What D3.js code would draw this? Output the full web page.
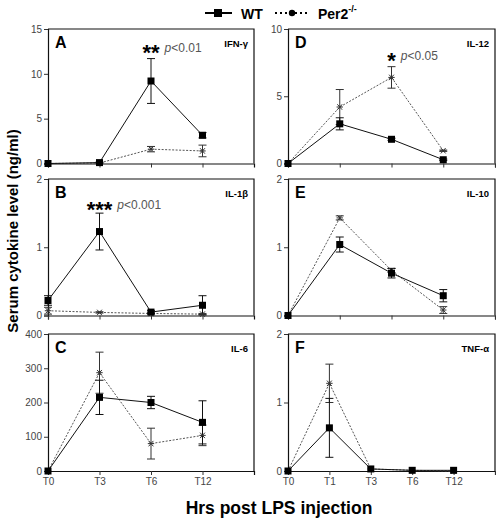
<!DOCTYPE html>
<html><head><meta charset="utf-8">
<script src="https://cdn.jsdelivr.net/npm/d3@7"></script>
<style>
body{margin:0;background:#fff;}
svg{display:block;font-family:"Liberation Sans",Arial,sans-serif;}
</style></head>
<body><svg id="c" width="496" height="519"></svg>
<script>
// ---- Data ----
const catsLeft = ["T0","T3","T6","T12"];
const catsRightTop = ["T0","T1","T3","T6"];
const catsF = ["T0","T1","T3","T6","T12"];

const ifngWT = [0, 0.1, 9.2, 3.15];
const ifngWTErr = [0, 0.05, 2.5, 0.3];
const ifngPer = [0, 0.05, 1.6, 1.4];
const ifngPerErr = [0, 0, 0.3, 0.65];

const il1bWT = [0.22, 1.23, 0.05, 0.15];
const il1bWTErr = [0.07, 0.27, 0.02, 0.14];
const il1bPer = [0.07, 0.045, 0.03, 0.02];
const il1bPerErr = [0.05, 0.01, 0.01, 0.01];

const il6WT = [0, 215, 200, 142];
const il6WTErr = [0, 50, 18, 63];
const il6Per = [0, 287, 80, 104];
const il6PerErr = [0, 60, 45, 30];

const il12WT = [0, 2.95, 1.8, 0.28];
const il12WTErr = [0, 0.45, 0.08, 0.05];
const il12Per = [0, 4.2, 6.4, 0.95];
const il12PerErr = [0, 1.3, 0.8, 0.05];

const il10WT = [0, 1.04, 0.62, 0.29];
const il10WTErr = [0, 0.11, 0.07, 0.09];
const il10Per = [0, 1.43, 0.66, 0.08];
const il10PerErr = [0, 0.03, 0.03, 0.05];

const tnfWT = [0, 0.63, 0.03, 0.01, 0.01];
const tnfWTErr = [0, 0.43, 0, 0, 0];
const tnfPer = [0, 1.28, 0.03, 0.01, 0.0];
const tnfPerErr = [0, 0.28, 0, 0, 0];

const panels = [
  {letter:"A", name:"IFN-γ", cats:catsLeft, slots:5, col:0, row:0, ymax:15, yticks:[0,5,10,15],
   wt:ifngWT, wtE:ifngWTErr, per:ifngPer, perE:ifngPerErr, stars:"**", p:"<0.01", starIdx:2, starVal:12.9, xlabels:false, edgeTick:false},
  {letter:"B", name:"IL-1β", cats:catsLeft, slots:5, col:0, row:1, ymax:2, yticks:[0,1,2],
   wt:il1bWT, wtE:il1bWTErr, per:il1bPer, perE:il1bPerErr, stars:"***", p:"<0.001", starIdx:1, starVal:1.62, xlabels:false, edgeTick:false},
  {letter:"C", name:"IL-6", cats:catsLeft, slots:5, col:0, row:2, ymax:400, yticks:[0,100,200,300,400],
   wt:il6WT, wtE:il6WTErr, per:il6Per, perE:il6PerErr, xlabels:true, edgeTick:false},
  {letter:"D", name:"IL-12", cats:catsRightTop, slots:5, col:1, row:0, ymax:10, yticks:[0,5,10],
   wt:il12WT, wtE:il12WTErr, per:il12Per, perE:il12PerErr, stars:"*", p:"<0.05", starIdx:2, starVal:8.0, xlabels:false, edgeTick:true},
  {letter:"E", name:"IL-10", cats:catsRightTop, slots:5, col:1, row:1, ymax:2, yticks:[0,1,2],
   wt:il10WT, wtE:il10WTErr, per:il10Per, perE:il10PerErr, xlabels:false, edgeTick:true},
  {letter:"F", name:"TNF-α", cats:catsF, slots:6, col:1, row:2, ymax:2, yticks:[0,1,2],
   wt:tnfWT, wtE:tnfWTErr, per:tnfPer, perE:tnfPerErr, xlabels:true, edgeTick:true}
];

// ---- Layout ----
const colX = [[48,254],[288,495]];
const rowY = [[29,163.5],[179,315.5],[334,471]];

const svg = d3.select("#c");

panels.forEach(p=>{
  const [x0,x1] = colX[p.col];
  const [y0,y1] = rowY[p.row];
  const slots = p.cats.concat(d3.range(p.slots - p.cats.length).map(i=>"_e"+i));
  const x = d3.scalePoint().domain(slots).range([x0,x1]);
  const y = d3.scaleLinear().domain([0,p.ymax]).range([y1,y0]);
  const g = svg.append("g");

  g.append("path").attr("d",`M${x0},${y0}H${x1}V${y1}`).attr("fill","none").attr("stroke","#111").attr("stroke-width",1.2);

  const ya = g.append("g").attr("transform",`translate(${x0},0)`)
    .call(d3.axisLeft(y).tickValues(p.yticks).tickSize(4).tickPadding(2).tickFormat(d3.format("d")));
  ya.select(".domain").attr("stroke","#111").attr("stroke-width",1.2);
  ya.selectAll("text").attr("font-size",10).attr("fill","#444");
  ya.selectAll("line").attr("stroke","#333");

  const tickVals = p.edgeTick ? slots : p.cats;
  const xa = g.append("g").attr("transform",`translate(0,${y1})`)
    .call(d3.axisBottom(x).tickValues(tickVals).tickSize(4).tickPadding(3)
      .tickFormat(d=> (p.xlabels && p.cats.includes(d)) ? d : ""));
  xa.select(".domain").attr("stroke","#111").attr("stroke-width",1.2);
  xa.selectAll("text").attr("font-size",10).attr("fill","#444");
  xa.selectAll("line").attr("stroke","#333");

  g.append("text").attr("x",x0+7).attr("y",y0+19).attr("font-size",16).attr("font-weight","bold").text(p.letter);
  g.append("text").attr("x",x1-6).attr("y",y0+18).attr("font-size",9.5).attr("font-weight","bold").attr("text-anchor","end").text(p.name);

  const pts = (vals,errs)=>vals.map((v,i)=>({cx:x(p.cats[i]),v,e:errs[i]}));
  const wt = pts(p.wt,p.wtE), per = pts(p.per,p.perE);
  const line = d3.line().x(d=>d.cx).y(d=>y(d.v));

  g.append("path").datum(per).attr("d",line).attr("fill","none").attr("stroke","#555").attr("stroke-width",1).attr("stroke-dasharray","2,1.5");
  g.append("path").datum(wt).attr("d",line).attr("fill","none").attr("stroke","#111").attr("stroke-width",1);

  const drawErr = (data,col)=>{
    data.filter(d=>d.e>0.0001).forEach(d=>{
      const yt=y(d.v+d.e), yb=y(Math.max(0,d.v-d.e));
      g.append("line").attr("x1",d.cx).attr("x2",d.cx).attr("y1",yt).attr("y2",yb).attr("stroke",col).attr("stroke-width",1);
      g.append("line").attr("x1",d.cx-4).attr("x2",d.cx+4).attr("y1",yt).attr("y2",yt).attr("stroke",col).attr("stroke-width",1);
      g.append("line").attr("x1",d.cx-4).attr("x2",d.cx+4).attr("y1",yb).attr("y2",yb).attr("stroke",col).attr("stroke-width",1);
    });
  };
  drawErr(per,"#333");
  drawErr(wt,"#111");

  per.forEach(d=>{
    const cy=y(d.v), s=3.2;
    g.append("path").attr("d",`M${d.cx-s},${cy}H${d.cx+s}M${d.cx-s*0.75},${cy-s*0.85}L${d.cx+s*0.75},${cy+s*0.85}M${d.cx-s*0.75},${cy+s*0.85}L${d.cx+s*0.75},${cy-s*0.85}`)
      .attr("stroke","#333").attr("stroke-width",1).attr("fill","none");
  });
  g.selectAll(".sq").data(wt).enter().append("rect")
    .attr("x",d=>d.cx-3.5).attr("y",d=>y(d.v)-3.5).attr("width",7).attr("height",7).attr("fill","#000");

  if(p.stars){
    const sx = x(p.cats[p.starIdx]);
    const sy = y(p.starVal);
    const t = g.append("text").attr("x",sx).attr("y",sy+12).attr("text-anchor","middle")
      .attr("font-size",22).attr("font-weight","bold").text(p.stars);
    const tw = t.node().getComputedTextLength();
    const pt = g.append("text").attr("x",sx+tw/2+5).attr("y",sy+4).attr("font-size",12).attr("fill","#555");
    pt.append("tspan").attr("font-style","italic").text("p");
    pt.append("tspan").text(p.p);
  }
});

svg.append("text").attr("transform","translate(18,231) rotate(-90)").attr("text-anchor","middle")
  .attr("font-size",15).attr("font-weight","bold").text("Serum cytokine level  (ng/ml)");
svg.append("text").attr("x",279).attr("y",514).attr("text-anchor","middle")
  .attr("font-size",17.5).attr("font-weight","bold").text("Hrs post LPS injection");

const lg = svg.append("g");
lg.append("line").attr("x1",205).attr("x2",232).attr("y1",13).attr("y2",13).attr("stroke","#000").attr("stroke-width",2);
lg.append("rect").attr("x",214).attr("y",9).attr("width",8).attr("height",8).attr("fill","#000");
lg.append("text").attr("x",241).attr("y",19).attr("font-size",14).attr("font-weight","bold").text("WT");
lg.append("line").attr("x1",275).attr("x2",310).attr("y1",13).attr("y2",13).attr("stroke","#000").attr("stroke-width",2).attr("stroke-dasharray","2,3");
lg.append("circle").attr("cx",292).attr("cy",13).attr("r",3.2).attr("fill","#000");
const lt = lg.append("text").attr("x",318).attr("y",19).attr("font-size",14).attr("font-weight","bold");
lt.append("tspan").text("Per2");
lt.append("tspan").attr("dy",-7).attr("font-size",9).text("-/-");
</script></body></html>
